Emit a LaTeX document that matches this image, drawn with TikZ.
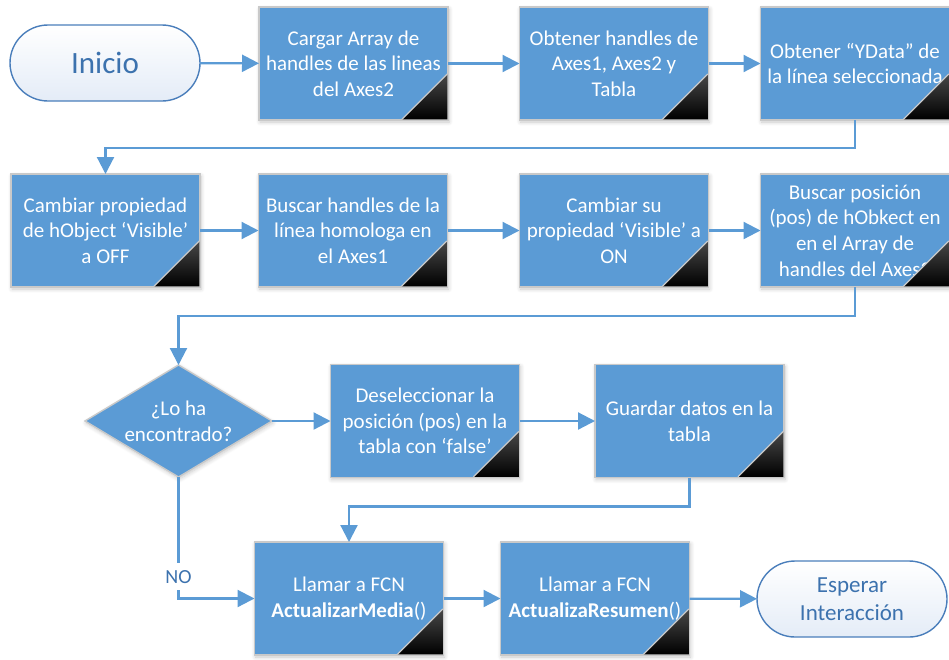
\documentclass[tikz,border=0pt]{standalone}
\usepackage{fontspec}
\setmainfont{Carlito}
\usetikzlibrary{arrows.meta,shapes.geometric,shadows.blur}
\definecolor{boxblue}{HTML}{5B9BD5}
\definecolor{edgegray}{HTML}{C9C9C9}
\definecolor{termline}{HTML}{4A7EBB}
\definecolor{termtext}{HTML}{3C72AE}
\definecolor{termfill}{HTML}{E4ECF7}

\begin{document}
\begin{tikzpicture}[x=1pt,y=-1pt,
  softshadow/.style={blur shadow={shadow blur steps=6, shadow xshift=1pt, shadow yshift=-2pt, shadow opacity=22, shadow blur radius=4pt}},
  proc/.style={rectangle, draw=edgegray, line width=1.4pt, fill=boxblue,
    minimum width=189pt, minimum height=113pt, inner sep=0pt, outer sep=0pt,
    text=white, align=center, font=\fontsize{21}{25.7}\selectfont, softshadow},
  decision/.style={diamond, aspect=1.67, draw=edgegray, line width=1.4pt, fill=boxblue,
    minimum width=187pt, minimum height=112pt, inner sep=0pt, outer sep=0pt,
    text=white, align=center, font=\fontsize{21}{25.7}\selectfont, softshadow},
  terminal/.style={rectangle, rounded corners=38pt, draw=termline, line width=1.4pt,
    top color=white, bottom color=termfill,
    minimum width=190pt, minimum height=76pt, inner sep=0pt, outer sep=0pt,
    text=termtext, align=center},
  flow/.style={draw=boxblue, line width=2.2pt, -{Triangle[length=17pt,width=17pt]}},
  cornertip/.style={shading angle=45, top color=black!72, bottom color=black},
  cornerline/.style={draw=edgegray, line width=1.2pt}
]
\useasboundingbox (0,0) rectangle (949,659);

% terminals
\node[terminal, font=\fontsize{31}{37}\selectfont] (inicio) at (105,63) {Inicio};
\node[terminal, font=\fontsize{23}{27.5}\selectfont] (fin) at (852,599) {Esperar\\Interacción};

% first row
\node[proc] (b1) at (353.5,63.5) {Cargar Array de\\handles de las lineas\\del Axes2};
\node[proc] (b2) at (614,63.5) {Obtener handles de\\Axes1, Axes2 y\\Tabla};
\node[proc] (b3) at (855,63.5) {Obtener “YData” de\\la línea seleccionada};

% second row
\node[proc] (b4) at (105.5,230.5) {Cambiar propiedad\\de hObject ‘Visible’\\a OFF};
\node[proc] (b5) at (353,230.5) {Buscar handles de la\\línea homologa en\\el Axes1};
\node[proc] (b6) at (614,230.5) {Cambiar su\\propiedad ‘Visible’ a\\ON};
\node[proc] (b7) at (855,230.5) {Buscar posición\\(pos) de hObkect en\\en el Array de\\handles del Axes2};

% third row
\node[decision] (dia) at (178.5,421) {¿Lo ha\\encontrado?};
\node[proc] (b8) at (425,421) {Deseleccionar la\\posición (pos) en la\\tabla con ‘false’};
\node[proc] (b9) at (689.5,421) {Guardar datos en la\\tabla};

% fourth row
\node[proc] (b10) at (349,598.5) {Llamar a FCN\\\textbf{ActualizarMedia}()};
\node[proc] (b11) at (595,598.5) {Llamar a FCN\\\textbf{ActualizaResumen}()};

% black folded corners
\foreach \n in {b1,b2,b3,b4,b5,b6,b7,b8,b9,b10,b11} {
  \shade[cornertip] ([shift={(-0.7,-0.7)}]\n.south east) -- ++(-45,0) -- ++(45,-45) -- cycle;
  \draw[cornerline] ([shift={(-46,-0.7)}]\n.south east) -- ([shift={(-0.7,-46)}]\n.south east);
}

% connectors
\draw[flow] (inicio) -- (b1);
\draw[flow] (b1) -- (b2);
\draw[flow] (b2) -- (b3);
\draw[flow] (b3.south) -- ++(0,28) -| (b4.north);
\draw[flow] (b4) -- (b5);
\draw[flow] (b5) -- (b6);
\draw[flow] (b6) -- (b7);
\draw[flow] (b7.south) -- ++(0,29) -| (dia.north);
\draw[flow] (dia.east) -- (b8.west);
\draw[flow] (b8) -- (b9);
\draw[flow] (b9.south) -- ++(0,29) -| (b10.north);
\draw[flow] (dia.south) |- (b10.west)
  node[pos=0.41, fill=white, text=termtext, inner xsep=1pt, inner ysep=7pt,
       font=\fontsize{20}{23}\selectfont] (no) {NO};
\draw[flow] (b10) -- (b11);
\draw[flow] (b11) -- (fin);
\end{tikzpicture}
\end{document}
